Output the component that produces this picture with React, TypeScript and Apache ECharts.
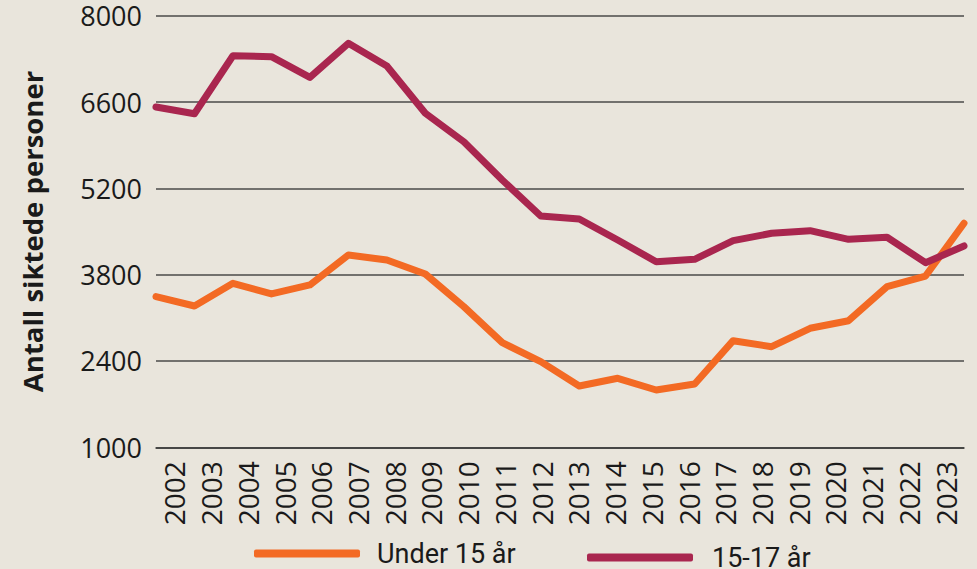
import React, { useEffect, useRef } from "react";
import * as echarts from "echarts";

const years = ["2002","2003","2004","2005","2006","2007","2008","2009","2010","2011","2012","2013","2014","2015","2016","2017","2018","2019","2020","2021","2022","2023"];
const under15 = [3443,3292,3660,3487,3633,4119,4038,3811,3281,2697,2389,1994,2119,1929,2027,2729,2632,2930,3053,3605,3778,4633];
const age15to17 = [6520,6410,7350,7335,7000,7552,7184,6417,5956,5335,4751,4703,4362,4010,4049,4351,4471,4513,4373,4406,3994,4265];
const seriesNames = ["Under 15 år", "15-17 år"];
const yMin = 1000;
const yMax = 8000;
const yStep = 1400;

const ORANGE = "#f36a24";
const PURPLE = "#a9264f";
const FONT = "'Open Sans', 'Noto Sans', sans-serif";
const LEGEND_FONT = "Roboto, 'Open Sans', sans-serif";

export default function App() {
  const ref = useRef<HTMLDivElement>(null);
  useEffect(() => {
    if (!ref.current) return;
    const chart = echarts.init(ref.current, null, { renderer: "svg" });
    chart.setOption({
      animation: false,
      backgroundColor: "#e9e5dc",
      grid: { left: 156, right: 13, top: 15.7, bottom: 121.7, containLabel: false },
      legend: [
        {
          data: [{ name: seriesNames[0], icon: "roundRect" }],
          left: 249,
          top: 535,
          itemWidth: 106,
          itemHeight: 8,
          textStyle: { fontFamily: LEGEND_FONT, fontSize: 27, color: "#1a1a1a", padding: [0, 0, 0, 12] },
          selectedMode: false,
        },
        {
          data: [{ name: seriesNames[1], icon: "roundRect" }],
          left: 582,
          top: 539,
          itemWidth: 106,
          itemHeight: 8,
          textStyle: { fontFamily: LEGEND_FONT, fontSize: 27, color: "#1a1a1a", padding: [0, 0, 0, 14] },
          selectedMode: false,
        },
      ],
      xAxis: [
        {
          type: "category",
          data: years,
          boundaryGap: true,
          axisLine: { show: true, lineStyle: { color: "#3a3a3a", width: 1.5 } },
          axisTick: { show: false },
          axisLabel: { rotate: 90, margin: 14, fontFamily: FONT, fontSize: 28, color: "#1a1a1a", interval: 0 },
        },
        {
          type: "category",
          data: years,
          boundaryGap: false,
          show: false,
        },
      ],
      yAxis: {
        type: "value",
        min: yMin,
        max: yMax,
        interval: yStep,
        name: "Antall siktede personer",
        nameLocation: "middle",
        nameRotate: 90,
        nameGap: 110,
        nameTextStyle: { fontFamily: FONT, fontSize: 27.5, fontWeight: "bold", color: "#1a1a1a" },
        axisLine: { show: false },
        axisTick: { show: false },
        axisLabel: { margin: 14, fontFamily: FONT, fontSize: 27, color: "#1a1a1a", formatter: (v: number) => String(v) },
        splitLine: { lineStyle: { color: "#4a4a4a", width: 1.5 } },
      },
      series: [
        {
          name: seriesNames[0],
          type: "line",
          xAxisIndex: 1,
          data: under15,
          showSymbol: false,
          symbol: "none",
          lineStyle: { color: ORANGE, width: 7, cap: "round", join: "round" },
          itemStyle: { color: ORANGE },
        },
        {
          name: seriesNames[1],
          type: "line",
          xAxisIndex: 1,
          data: age15to17,
          showSymbol: false,
          symbol: "none",
          lineStyle: { color: PURPLE, width: 7, cap: "round", join: "round" },
          itemStyle: { color: PURPLE },
        },
      ],
    });
    return () => chart.dispose();
  }, []);
  return <div ref={ref} style={{ width: 977, height: 569, position: "fixed", left: 0, top: 0 }} />;
}
